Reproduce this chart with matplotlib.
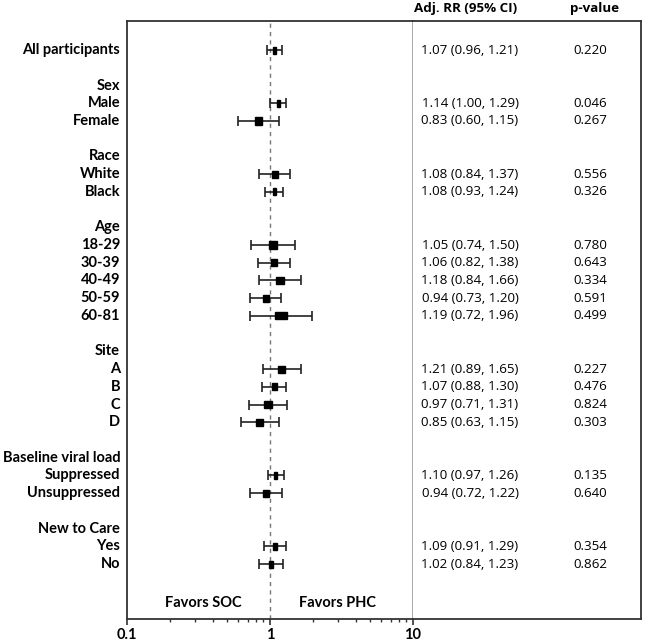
import numpy as np
import matplotlib
matplotlib.use('Agg')
import matplotlib.pyplot as plt
from matplotlib.patches import Rectangle

# subgroup data
groups = ['Sex', 'Race', 'Age', 'Site', 'Baseline viral load', 'New to Care']
subgroups = [['Male', 'Female'],
             ['White', 'Black'],
             ['18-29', '30-39', '40-49', '50-59', '60-81'],
             ['A', 'B', 'C', 'D'],
             ['Suppressed', 'Unsuppressed'],
             ['Yes', 'No']]

overall_label = 'All participants'
rr = [1.07, 1.14, 0.83, 1.08, 1.08, 1.05, 1.06, 1.18, 0.94, 1.19,
      1.21, 1.07, 0.97, 0.85, 1.10, 0.94, 1.09, 1.02]
ci_lo = [0.96, 1.00, 0.60, 0.84, 0.93, 0.74, 0.82, 0.84, 0.73, 0.72,
         0.89, 0.88, 0.71, 0.63, 0.97, 0.72, 0.91, 0.84]
ci_hi = [1.21, 1.29, 1.15, 1.37, 1.24, 1.50, 1.38, 1.66, 1.20, 1.96,
         1.65, 1.30, 1.31, 1.15, 1.26, 1.22, 1.29, 1.23]
p_values = ['0.220', '0.046', '0.267', '0.556', '0.326', '0.780', '0.643', '0.334', '0.591',
            '0.499', '0.227', '0.476', '0.824', '0.303', '0.135', '0.640', '0.354', '0.862']

# build row layout: overall row, then blank + header + subgroup rows
row_labels = [overall_label]
row_pos = [0]
header_pos = []
pos = 0
for g, subs in zip(groups, subgroups):
    pos += 2
    header_pos.append(pos)
    for s in subs:
        pos += 1
        row_labels.append(s)
        row_pos.append(pos)

label_font = 'Lato'
num_font = 'Open Sans'
lab_size = 10.5
num_size = 9.6

fig = plt.figure(figsize=(6.5, 6.43), dpi=100)
ax = fig.add_axes([127 / 650, 1 - 619 / 643, (413 - 127) / 650, (619 - 21) / 643])
ax2 = fig.add_axes([413 / 650, 1 - 619 / 643, (641 - 413) / 650, (619 - 21) / 643], sharey=ax)

ax.set_xscale('log')
ax.set_xlim(0.1, 10)
ax.set_ylim(32.1, -1.64)

ax.axvline(1, color='#777777', lw=1, ls=(0, (3, 3)), zorder=1)

for y, m, lo, hi in zip(row_pos, rr, ci_lo, ci_hi):
    ax.errorbar(m, y, xerr=[[m - lo], [hi - m]], fmt='none', ecolor='#222222',
                elinewidth=1.2, capsize=3.5, capthick=1.2, zorder=2)
    half = 0.095 * np.log10(hi / lo)
    x0, x1 = m * 10 ** (-half), m * 10 ** half
    ax.add_patch(Rectangle((x0, y - 0.2), x1 - x0, 0.4, color='black', zorder=3))

lab_tr = ax.get_yaxis_transform()
for y, lab in zip(row_pos, row_labels):
    ax.text(-0.024, y, lab, transform=lab_tr, ha='right', va='center',
            fontsize=lab_size, fontweight='bold', family=label_font)
for y, g in zip(header_pos, groups):
    ax.text(-0.024, y, g, transform=lab_tr, ha='right', va='center',
            fontsize=lab_size, fontweight='bold', family=label_font)

ax.text(0.344, 31.2, 'Favors SOC', ha='center', va='center', fontsize=lab_size,
        fontweight='bold', family=label_font)
ax.text(2.95, 31.2, 'Favors PHC', ha='center', va='center', fontsize=lab_size,
        fontweight='bold', family=label_font)

ax.set_yticks([])
ax.set_xticks([0.1, 1, 10])
ax.set_xticklabels(['0.1', '1', '10'], fontsize=lab_size, fontweight='bold', family=label_font)
ax.tick_params(axis='x', which='major', direction='out', length=4, width=1.2, colors='#333333',
               labelcolor='black', pad=2.5)
ax.tick_params(axis='x', which='minor', direction='out', length=2.5, width=1, colors='#333333')
ax.xaxis.set_minor_formatter(matplotlib.ticker.NullFormatter())

for side in ['left', 'top', 'bottom']:
    ax.spines[side].set_color('#333333')
    ax.spines[side].set_linewidth(1.3)
ax.spines['right'].set_color('#999999')
ax.spines['right'].set_linewidth(1.2)

# right-hand text panel
ax2.set_xlim(0, 1)
ax2.set_xticks([])
ax2.tick_params(axis='y', left=False, labelleft=False)
ax2.spines['left'].set_visible(False)
for side in ['top', 'right', 'bottom']:
    ax2.spines[side].set_color('#333333')
    ax2.spines[side].set_linewidth(1.3)

for y, m, lo, hi, p in zip(row_pos, rr, ci_lo, ci_hi, p_values):
    ax2.text(0.25, y, f'{m:.2f} ({lo:.2f}, {hi:.2f})', ha='center', va='center',
             fontsize=num_size, family=num_font)
    ax2.text(0.776, y, p, ha='center', va='center', fontsize=num_size, family=num_font)

ax2.text(0.232, -2.37, 'Adj. RR (95% CI)', ha='center', va='center', fontsize=num_size,
         fontweight='bold', family=num_font, clip_on=False)
ax2.text(0.798, -2.37, 'p-value', ha='center', va='center', fontsize=num_size,
         fontweight='bold', family=num_font, clip_on=False)

fig.savefig('out.png', dpi=100)
